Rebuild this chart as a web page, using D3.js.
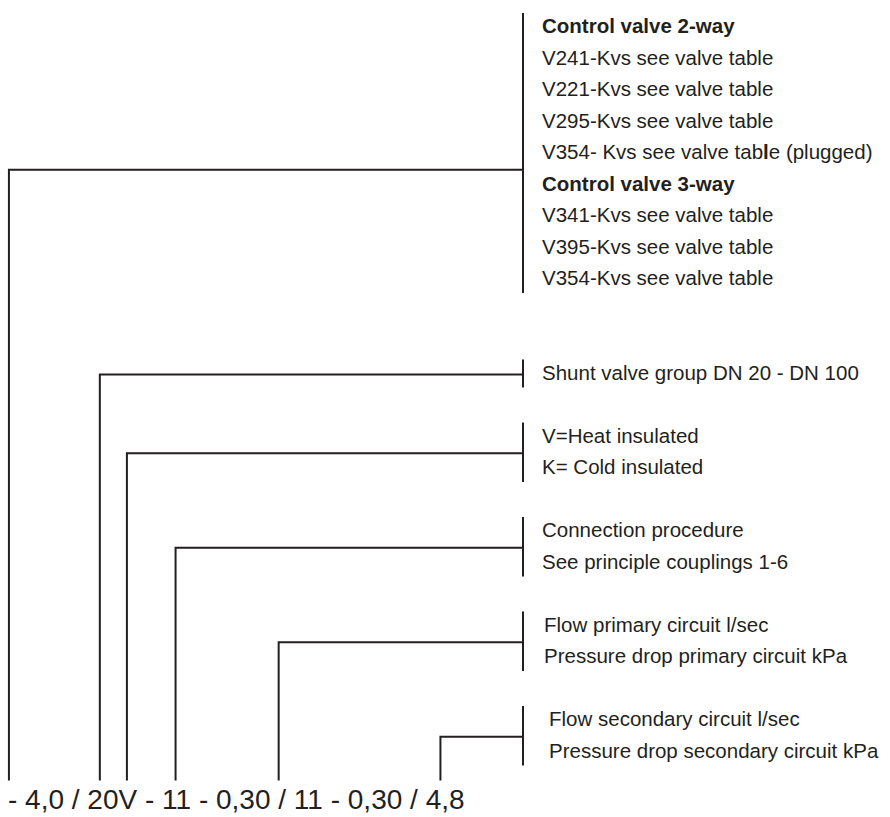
<!DOCTYPE html>
<html>
<head>
<meta charset="utf-8">
<script src="https://cdn.jsdelivr.net/npm/d3@7"></script>
<style>
  html, body { margin: 0; padding: 0; background: #ffffff; }
  svg { display: block; }
  text { font-family: "Liberation Sans", Arial, Helvetica, sans-serif; fill: #231f20; }
</style>
</head>
<body>
<svg id="chart" width="890" height="817"></svg>
<script>
// ---------------- data ----------------
const valve2Title = "Control valve 2-way";
const valve2Items = [
  "V241-Kvs see valve table",
  "V221-Kvs see valve table",
  "V295-Kvs see valve table",
  "V354- Kvs see valve table (plugged)"
];
const valve3Title = "Control valve 3-way";
const valve3Items = [
  "V341-Kvs see valve table",
  "V395-Kvs see valve table",
  "V354-Kvs see valve table"
];
const shuntLabels = ["Shunt valve group DN 20 - DN 100"];
const insulationLabels = ["V=Heat insulated", "K= Cold insulated"];
const connectionLabels = ["Connection procedure", "See principle couplings 1-6"];
const primaryLabels = ["Flow primary circuit l/sec", "Pressure drop primary circuit kPa"];
const secondaryLabels = ["Flow secondary circuit l/sec", "Pressure drop secondary circuit kPa"];
const codeText = "- 4,0 / 20V - 11 - 0,30 / 11 - 0,30 / 4,8";
// character position in codeText that each callout points to (fractional = inside the glyph)
const codeAnchors = [0.1, 8.8, 10.45, 15.0, 24.05, 38.95];

// ---------------- layout ----------------
const W = 890, H = 817;
const svg = d3.select("#chart");
const ink = "#231f20";
const bracketX = 523;
const textX = 542;
const fontSize = 20.5;

// text rows live on a regular baseline grid
const y = d3.scaleLinear().domain([0, 23]).range([33, 757.5]);

const topRows = [
  { text: valve2Title, bold: true },
  ...valve2Items.map(t => ({ text: t })),
  { text: valve3Title, bold: true },
  ...valve3Items.map(t => ({ text: t }))
];

const groups = [
  { rows: topRows, start: 0, link: 4.5, indent: 0 },
  { rows: shuntLabels.map(t => ({ text: t })), start: 11, link: 11, indent: 0 },
  { rows: insulationLabels.map(t => ({ text: t })), start: 13, link: 13.5, indent: 0 },
  { rows: connectionLabels.map(t => ({ text: t })), start: 16, link: 16.5, indent: 0 },
  { rows: primaryLabels.map(t => ({ text: t })), start: 19, link: 19.5, indent: 2 },
  { rows: secondaryLabels.map(t => ({ text: t })), start: 22, link: 22.5, indent: 7 }
];

// ---------- bottom code text ----------
const codeBaseline = 809;
const code = svg.append("text")
  .attr("x", 8).attr("y", codeBaseline)
  .attr("font-size", 28)
  .text(codeText);
const codeNode = code.node();
function anchorX(a) {
  const i = Math.floor(a);
  const s = codeNode.getStartPositionOfChar(i).x;
  const e = codeNode.getEndPositionOfChar(i).x;
  return s + (a - i) * (e - s);
}
const lineBottom = y(23) + 23;

// ---------- right-side labels ----------
const gSel = svg.selectAll("g.group").data(groups).join("g").attr("class", "group");

gSel.each(function (g) {
  const sel = d3.select(this);
  sel.selectAll("text.label").data(g.rows).join("text")
    .attr("class", "label")
    .attr("x", textX + g.indent)
    .attr("y", (d, i) => y(g.start + i))
    .attr("font-size", fontSize)
    .attr("font-weight", d => d.bold ? 700 : 400)
    .each(function (d) {
      const t = d3.select(this);
      if (d.text.indexOf("(plugged)") >= 0) {
        const k = d.text.indexOf("table") + 3;
        t.append("tspan").text(d.text.slice(0, k));
        t.append("tspan").attr("font-weight", 700).text(d.text.slice(k, k + 1));
        t.append("tspan").text(d.text.slice(k + 1));
      } else {
        t.text(d.text);
      }
    });
});

// brackets
svg.selectAll("path.bracket").data(groups).join("path")
  .attr("class", "bracket")
  .attr("d", g => `M${bracketX},${y(g.start) - 20}V${y(g.start + g.rows.length - 1) + 8}`)
  .attr("fill", "none").attr("stroke", ink).attr("stroke-width", 2);

// callout lines from code characters up to brackets
svg.selectAll("path.callout").data(groups).join("path")
  .attr("class", "callout")
  .attr("d", (g, i) => {
    const x = anchorX(codeAnchors[i]);
    const yh = y(g.link) - 5;
    return `M${x},${lineBottom}V${yh}H${bracketX}`;
  })
  .attr("fill", "none").attr("stroke", ink).attr("stroke-width", 2)
  .attr("stroke-linejoin", "miter");
</script>
</body>
</html>
